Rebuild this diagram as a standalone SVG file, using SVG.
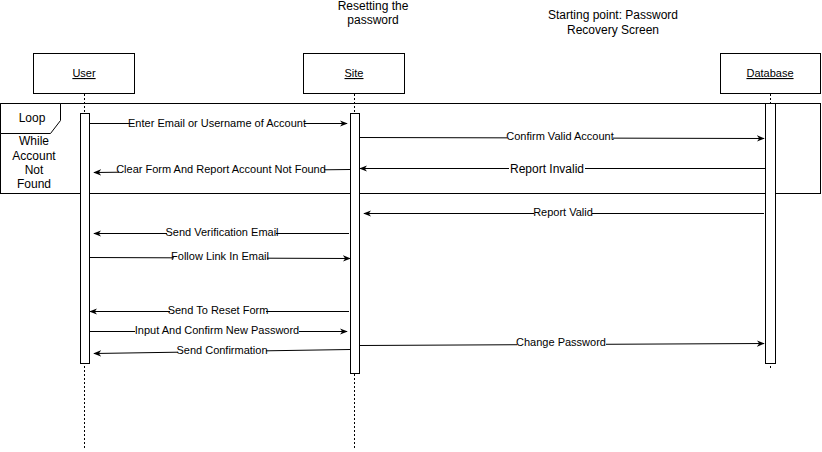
<svg xmlns="http://www.w3.org/2000/svg" width="822" height="452" viewBox="0 0 822 452">
<defs>
<style>
.box{fill:#fff;stroke:#000;stroke-width:1}
.life{stroke:#000;stroke-width:1;stroke-dasharray:2 2;fill:none}
.act{fill:#fff;stroke:#000;stroke-width:1}
.msg{stroke:#000;stroke-width:1;fill:none;marker-end:url(#arr)}
.t{font-family:"Liberation Sans",Arial,sans-serif;font-size:12px;fill:#000;text-anchor:middle}
.hd{font-family:"Liberation Sans",Arial,sans-serif;font-size:11px;fill:#000;text-anchor:middle;text-decoration:underline}
.lbl{font-family:"Liberation Sans",Arial,sans-serif;font-size:11px;fill:#000;text-anchor:middle;dominant-baseline:middle}
.big{font-size:12px}
.bg{fill:#fff}
</style>
<marker id="arr" viewBox="0 0 10 10" refX="9" refY="5" markerWidth="8" markerHeight="8" markerUnits="userSpaceOnUse" orient="auto">
<path d="M0,1 L10,5 L0,9 L3,5 z" fill="#000"/>
</marker>
</defs>
<rect width="822" height="452" fill="#fff"/>
<text class="t" x="373" y="10">Resetting the</text>
<text class="t" x="373" y="24">password</text>
<text class="t" x="613" y="19">Starting point: Password</text>
<text class="t" x="613" y="34">Recovery Screen</text>

<g id="loop">
<rect x="0.5" y="103.5" width="820" height="90" fill="none" stroke="#000"/>
<path d="M0.5,103.5 H60.5 V120.5 L50.5,133.5 H0.5 Z" fill="#fff" stroke="#000"/>
<text class="t" x="32" y="122">Loop</text>
<text class="t" x="34" y="145">While</text>
<text class="t" x="34" y="160">Account</text>
<text class="t" x="34" y="174">Not</text>
<text class="t" x="34" y="188">Found</text>
</g>

<g id="user">
<rect class="box" x="33.5" y="53.5" width="101" height="40"/>
<text class="hd" x="84" y="77">User</text>
<line class="life" x1="84.5" y1="94" x2="84.5" y2="450"/>
<rect class="act" x="80.5" y="113.5" width="9" height="250"/>
</g>
<g id="site">
<rect class="box" x="303.5" y="53.5" width="101" height="40"/>
<text class="hd" x="354" y="77">Site</text>
<line class="life" x1="354.5" y1="94" x2="354.5" y2="450"/>
<rect class="act" x="350.5" y="113.5" width="9" height="260"/>
</g>
<g id="database">
<rect class="box" x="720.5" y="53.5" width="100" height="40"/>
<text class="hd" x="770" y="77">Database</text>
<line class="life" x1="770.5" y1="94" x2="770.5" y2="370"/>
<rect class="act" x="765.5" y="103.5" width="10" height="260"/>
</g>

<g id="connectors">
<line class="msg" x1="90" y1="123.5" x2="347" y2="123.5"/>
<line class="msg" x1="360" y1="137.5" x2="764" y2="138.5"/>
<line class="msg" x1="765" y1="168.5" x2="360" y2="168.5"/>
<line class="msg" x1="350" y1="169.5" x2="94" y2="172.5"/>
<line class="msg" x1="764" y1="213.5" x2="364" y2="213.5"/>
<line class="msg" x1="349" y1="233.5" x2="94" y2="233.5"/>
<line class="msg" x1="90" y1="257.5" x2="350" y2="258.5"/>
<line class="msg" x1="349" y1="311.5" x2="90" y2="311.5"/>
<line class="msg" x1="90" y1="331.5" x2="347" y2="331.5"/>
<line class="msg" x1="350" y1="349.5" x2="94" y2="353.5"/>
<line class="msg" x1="360" y1="345.5" x2="764" y2="343.5"/>

<rect class="bg" x="130" y="117" width="174" height="13"/>
<text class="lbl" x="217" y="124">Enter Email or Username of Account</text>
<rect class="bg" x="507" y="131" width="106" height="13"/>
<text class="lbl" x="560" y="137.5">Confirm Valid Account</text>
<rect class="bg" x="509" y="162" width="76" height="14"/>
<text class="lbl big" x="547" y="169.5">Report Invalid</text>
<rect class="bg" x="119" y="164" width="205" height="13"/>
<text class="lbl" x="221" y="170.5">Clear Form And Report Account Not Found</text>
<rect class="bg" x="534" y="207" width="58" height="13"/>
<text class="lbl" x="563" y="213.5">Report Valid</text>
<rect class="bg" x="167" y="227" width="109" height="13"/>
<text class="lbl" x="222" y="233.5">Send Verification Email</text>
<rect class="bg" x="174" y="251" width="93" height="13"/>
<text class="lbl" x="220" y="257.5">Follow Link In Email</text>
<rect class="bg" x="170" y="305" width="96" height="13"/>
<text class="lbl" x="218" y="311.5">Send To Reset Form</text>
<rect class="bg" x="135" y="325" width="164" height="13"/>
<text class="lbl" x="217" y="331.5">Input And Confirm New Password</text>
<rect class="bg" x="178" y="345" width="88" height="13"/>
<text class="lbl" x="222" y="351.5">Send Confirmation</text>
<rect class="bg" x="517" y="337" width="89" height="13"/>
<text class="lbl" x="561" y="343.5">Change Password</text>
</g>
</svg>
